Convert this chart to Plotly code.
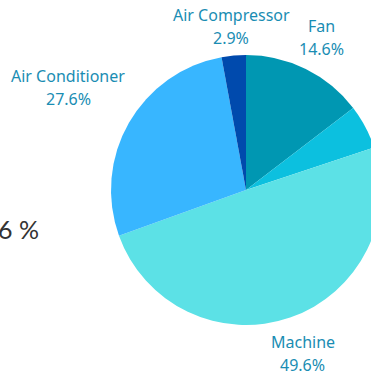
import math
import plotly.graph_objects as go

# Energy consumption share by equipment type (percent)
categories = ["Fan", "Lighting", "Machine", "Air Conditioner", "Air Compressor"]
shares = [14.6, 5.3, 49.6, 27.6, 2.9]
colors = ["#0097b2", "#0cc0df", "#5ce1e6", "#38b6ff", "#004aad"]
side_text = "6 %"

# ---- layout parameters -------------------------------------------------
FIG_W, FIG_H = 492, 378
M_TOP, M_BOT = 55, 53
PLOT_H = FIG_H - M_TOP - M_BOT
CX, CY = FIG_W / 2, M_TOP + PLOT_H / 2          # pie centre in pixels
label_color = "#1a8db3"
label_font = "Noto Sans"
label_size = 16
line_gap = 23                                     # px between name and value lines
# radial distance (px from centre) of each label block
label_dist = {
    "Fan": 170,
    "Lighting": 220,
    "Machine": 173,
    "Air Conditioner": 205,
    "Air Compressor": 164,
}


def to_paper(px, py):
    return px / FIG_W, 1 - (py - M_TOP) / PLOT_H


fig = go.Figure(
    go.Pie(
        labels=categories,
        values=shares,
        marker=dict(colors=colors, line=dict(width=0)),
        sort=False,
        direction="clockwise",
        rotation=0,
        textinfo="none",
        hoverinfo="label+percent",
        showlegend=False,
        automargin=False,
        domain=dict(x=[0, 1], y=[0, 1]),
    )
)

# outside labels: placed along each slice's mid angle
total = sum(shares)
start = 0.0
for name, val in zip(categories, shares):
    mid = (start + val / 2) / total * 2 * math.pi
    start += val
    d = label_dist[name]
    bx = CX + d * math.sin(mid)
    by = CY - d * math.cos(mid)
    for txt, dy in ((name, -line_gap / 2), (f"{val:.1f}%", line_gap / 2)):
        xp, yp = to_paper(bx, by + dy)
        fig.add_annotation(
            text=txt, xref="paper", yref="paper", x=xp, y=yp,
            xanchor="center", yanchor="middle", showarrow=False,
            font=dict(family=label_font, size=label_size, color=label_color),
        )

sx, sy = to_paper(41, 229)
fig.add_annotation(
    text=side_text,
    xref="paper", yref="paper", x=sx, y=sy,
    xanchor="right", yanchor="middle",
    showarrow=False,
    font=dict(family="Lato", size=25, color="#333333", weight=400),
)

fig.update_layout(
    width=FIG_W,
    height=FIG_H,
    margin=dict(l=0, r=0, t=M_TOP, b=M_BOT, autoexpand=False),
    paper_bgcolor="white",
    plot_bgcolor="white",
)

fig.write_html(
    "out.html",
    post_script=(
        "document.body.style.margin='0';"
        "document.documentElement.style.overflow='hidden';"
        "document.body.style.overflow='hidden';"
    ),
)
